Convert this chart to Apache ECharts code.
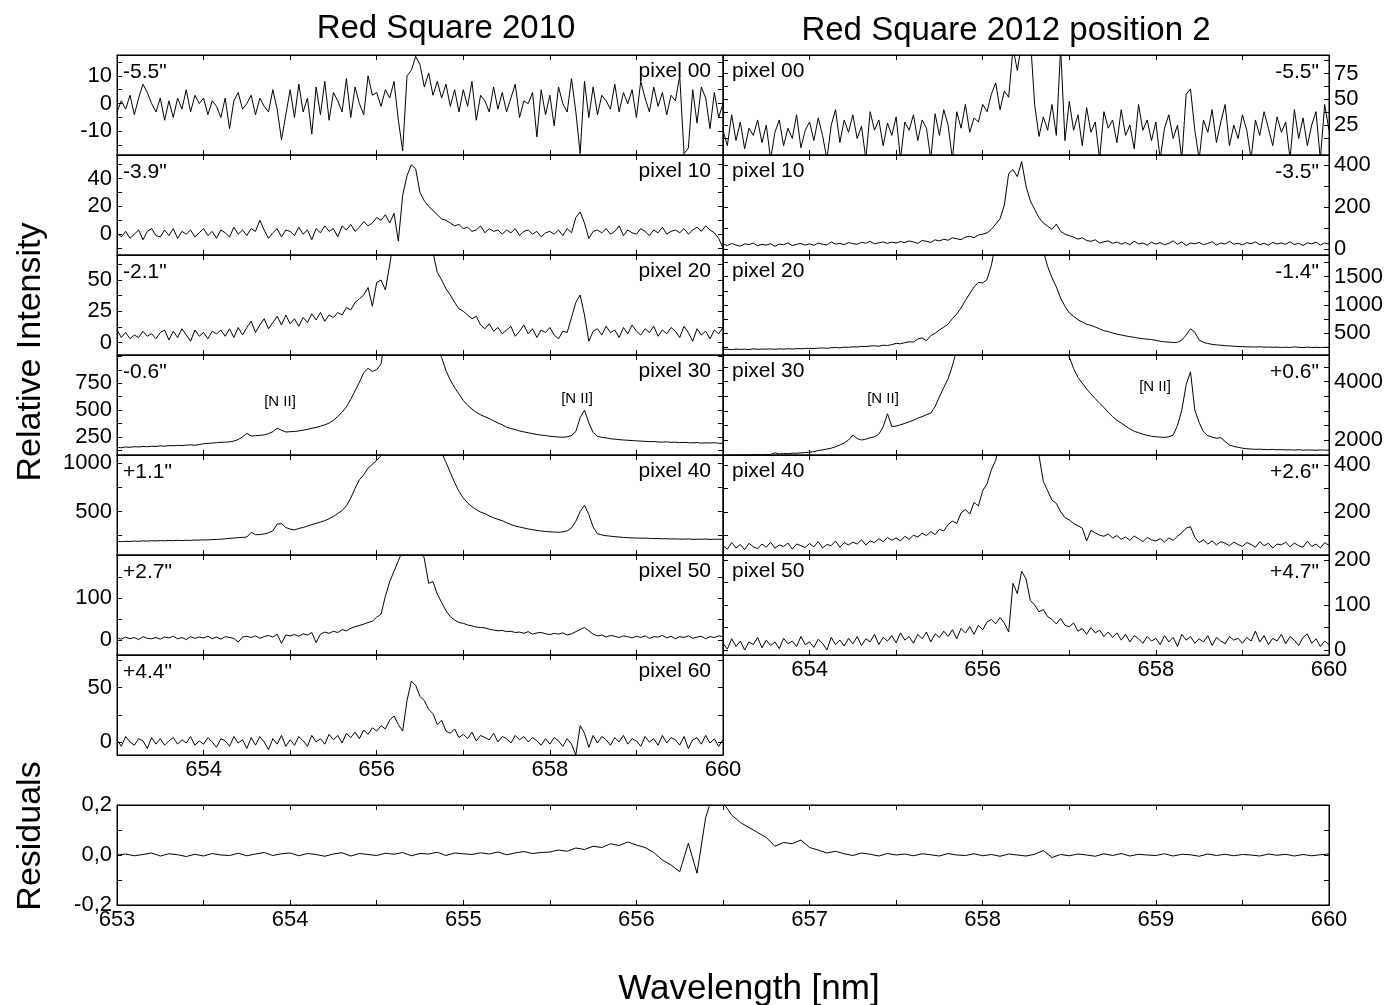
<!DOCTYPE html>
<html><head><meta charset="utf-8">
<script src="https://cdn.jsdelivr.net/npm/echarts@6.0.0/dist/echarts.min.js"></script>
<style>html,body{margin:0;padding:0;background:#fff}#chart{width:1387px;height:1005px}</style>
</head><body><div id="chart"></div>
<script>
const FONT = '"Liberation Sans", Arial, sans-serif';
// wavelength sampling (nm)
const wlStart = 653, wlStep = 0.05;

// ---- Red Square 2010 ----
const left00 = [
-3,1,-2,3,-4,2,7,4,0,-3,
2,-6,1,-5,2,-2,5,-3,3,0,
2,-4,1,-1,-5,2,-9,1,4,-2,
0,3,-4,2,-1,-3,5,-2,-13,-4,
5,-5,7,-3,2,-11,6,-4,8,-6,
4,1,-3,9,-5,6,0,-4,10,3,
4,-1,5,2,8,-6,-17,10,12,17,
14,6,11,3,8,2,7,-1,5,-3,
5,-1,8,-6,3,1,-3,6,-2,4,
-3,2,7,-5,1,0,4,-12,5,-4,
3,-8,6,0,-3,9,-3,-18,8,-5,
6,-4,3,1,-2,7,-3,4,0,5,
-5,8,2,-3,6,-1,4,-4,3,1,
10,-18,-16,5,-7,6,2,-9,4,-5,
0];
const left10 = [
1,-2,2,-3,0,3,-4,2,4,-1,
-2,3,-1,4,-3,2,0,3,-2,1,
4,-1,2,-3,3,1,-2,5,0,3,
-1,4,2,10,3,-3,1,4,-2,3,
2,-1,5,0,3,-4,4,1,6,2,
4,-2,6,3,7,2,5,9,6,8,
12,10,14,8,15,-5,28,42,50,47,
30,24,20,17,14,11,10,8,6,7,
4,5,2,3,6,1,4,2,3,0,
3,1,4,-1,2,3,0,2,-2,1,
2,0,3,-1,4,1,12,16,8,-3,
2,3,1,4,0,2,6,-1,3,1,
0,4,2,-1,3,1,5,0,2,3,
1,4,0,3,5,2,6,3,1,-3,
-10];
const left20 = [
10,4,8,3,6,4,9,5,7,3,
8,10,2,9,4,11,6,1,10,5,
8,3,9,7,10,5,11,4,12,6,
12,17,8,14,19,11,16,21,14,22,
15,19,13,20,16,23,18,24,17,22,
20,24,22,28,26,32,35,38,44,29,
48,50,42,62,85,130,190,230,240,210,
160,110,85,72,56,50,43,38,32,27,
25,22,19,21,14,11,15,9,12,7,
10,13,5,9,14,7,11,4,10,8,
12,6,3,9,8,20,32,38,22,1,
9,11,6,13,8,10,4,12,7,14,
9,6,11,8,13,5,10,7,12,9,
4,13,8,1,11,6,9,3,10,7,
12];
const left30 = [
150,148,155,152,158,155,160,157,162,160,
165,162,168,166,170,168,172,175,171,178,
185,188,192,195,198,200,203,210,225,250,
282,258,260,264,268,280,298,330,312,295,
298,300,305,312,320,330,338,350,362,378,
405,440,480,530,600,680,760,850,890,860,
880,930,1200,1500,2000,2500,3000,3200,3000,2600,
2200,1800,1400,1150,1060,990,870,780,710,650,
590,545,510,480,455,438,420,400,380,362,
340,328,318,305,296,288,280,272,266,262,
255,252,248,246,250,262,300,430,500,380,
290,255,245,240,232,228,224,220,218,215,
212,210,208,205,206,202,200,203,198,200,
196,198,195,193,197,190,194,192,195,190,
188];
const left40 = [
190,188,192,190,195,192,196,194,198,196,
199,197,200,198,202,200,203,201,205,204,
207,206,210,212,214,218,222,226,230,232,
236,285,260,262,268,280,300,370,375,335,
318,310,325,335,350,365,378,392,405,425,
450,480,510,560,640,740,830,880,950,990,
1030,1080,1400,2000,2800,3500,4000,4200,3900,3300,
2700,2100,1700,1400,1200,1110,1010,905,800,710,
640,590,550,520,495,478,455,435,420,405,
385,365,350,340,330,320,312,305,298,294,
290,288,285,290,300,330,400,500,565,470,
340,270,258,250,245,240,236,232,230,227,
226,224,225,222,220,221,218,219,216,217,
215,214,216,212,214,213,215,211,214,212,
214];
const left50 = [
5,2,7,3,6,1,8,4,3,6,
2,7,5,9,3,6,1,8,4,7,
5,9,3,7,2,8,6,4,-5,7,
9,6,10,4,8,11,7,14,-8,12,
10,13,9,15,12,18,-6,14,19,16,
21,18,25,22,28,32,35,38,42,45,
55,62,105,140,165,190,215,300,320,280,
230,195,136,140,110,90,70,56,48,42,
40,36,34,31,30,29,26,24,22,23,
20,21,18,19,16,20,14,17,18,15,
13,16,14,17,12,15,20,25,30,22,
14,10,12,7,11,9,6,10,8,5,
9,6,10,4,8,7,11,5,9,3,
8,6,10,4,7,9,3,8,6,10,
8];
const left60 = [
2,-4,5,0,-3,3,1,-6,4,-2,
3,-3,1,4,-2,2,-1,5,-3,1,
-2,4,0,-5,3,1,-4,5,-1,2,
-6,4,-3,5,0,-7,3,-2,6,-4,
2,-3,5,1,-4,6,0,3,-2,7,
2,6,-1,8,4,9,3,11,7,13,
10,15,12,20,24,16,10,38,56,52,
42,38,30,26,16,20,10,8,12,4,
7,3,9,1,6,4,2,8,0,5,
3,-1,6,2,5,0,4,1,-3,3,
-2,4,1,-4,3,-2,-12,15,8,-5,
6,-1,5,2,-3,4,0,6,-2,3,
1,-4,5,0,3,-3,6,-1,4,2,
-3,5,-6,2,4,-2,6,-1,3,-4,
2];

// ---- Red Square 2012 position 2 ----
const right00 = [
20,5,35,10,28,2,22,15,30,8,
25,-8,18,30,5,22,12,35,3,20,
28,10,32,15,-8,25,40,8,30,18,
35,12,24,-8,38,20,30,5,27,15,
33,-8,28,20,35,10,30,22,-8,36,
15,40,25,-8,38,22,45,18,32,28,
45,38,55,66,40,58,52,100,78,105,
98,110,45,14,33,20,45,15,100,10,
48,20,35,5,42,18,28,-8,38,22,
30,8,40,15,25,2,45,20,30,10,
28,-8,22,35,12,25,-8,55,60,20,
-8,30,18,40,8,28,45,5,25,12,
35,20,-8,30,15,38,22,5,33,18,
28,-8,40,12,32,5,25,38,-8,45,
20];
const right10 = [
25,18,28,20,15,26,22,30,17,24,
20,27,14,25,22,30,18,24,28,20,
26,19,30,24,21,35,25,28,22,32,
27,24,33,29,38,26,31,35,28,34,
30,37,32,40,35,28,42,38,33,45,
40,48,43,55,50,46,58,62,55,68,
72,78,95,120,145,210,360,378,345,417,
300,230,190,150,125,110,95,120,85,72,
65,58,48,55,42,38,45,30,36,40,
28,35,25,32,22,38,26,30,20,34,
25,32,22,28,40,24,35,18,30,26,
33,22,28,36,20,30,25,38,24,29,
21,32,26,35,22,28,20,33,25,30,
24,36,22,29,18,31,26,34,20,30,
25];
const right20 = [
215,218,212,222,216,220,214,225,218,222,
220,224,218,226,221,228,223,230,226,232,
235,230,238,242,236,245,250,244,255,252,
262,258,270,265,275,280,272,290,285,300,
322,315,335,350,345,400,420,370,460,500,
560,610,660,760,840,950,1080,1200,1320,1400,
1390,1450,1700,2100,2800,3500,4200,4600,4500,4000,
3400,2800,2300,2100,1950,1680,1480,1320,1120,980,
860,800,740,700,660,640,610,580,545,530,
505,485,470,455,440,430,415,405,398,390,
375,360,350,345,338,340,380,470,580,520,
380,340,320,305,295,290,282,278,272,268,
265,262,260,258,263,255,258,252,256,250,
254,250,262,252,248,256,250,253,249,252,
255];
const right30 = [
1480,1470,1485,1475,1490,1478,1482,1488,1495,1490,
1500,1505,1560,1520,1540,1530,1550,1545,1560,1570,
1580,1600,1640,1660,1690,1720,1770,1830,1900,2000,
2170,2050,2000,2030,2080,2110,2200,2450,2900,2460,
2480,2520,2570,2620,2680,2750,2800,2870,2920,3150,
3480,3800,4100,4550,5100,6000,7500,9000,11000,13000,
15000,17000,19000,20000,21000,21000,20000,18000,16000,14000,
12000,10500,9000,7800,7000,6500,6000,5600,5200,5000,
4850,4450,4150,3950,3750,3580,3420,3260,3120,2950,
2800,2680,2580,2480,2380,2300,2250,2200,2160,2130,
2110,2100,2090,2110,2170,2500,3030,3900,4340,3030,
2600,2280,2150,2100,2060,2080,1950,1830,1780,1750,
1720,1700,1690,1680,1685,1675,1670,1680,1665,1670,
1660,1665,1655,1670,1650,1660,1655,1648,1660,1652,
1655];
const right40 = [
55,40,68,45,60,38,65,50,42,62,
48,70,44,58,52,66,40,62,55,47,
64,50,72,45,60,55,75,48,68,58,
70,62,80,58,75,68,85,72,90,78,
88,75,95,82,100,92,108,98,115,102,
125,118,145,160,150,195,210,190,240,225,
290,320,380,420,520,700,900,1000,950,800,
650,520,470,440,330,290,250,236,200,175,
165,150,140,130,75,120,110,100,95,105,
88,98,82,92,78,96,85,72,90,80,
75,85,70,88,78,95,110,130,136,90,
68,80,62,75,58,72,66,55,70,60,
52,68,60,48,72,55,65,45,62,58,
70,50,66,55,48,74,52,62,45,68,
56];
const right50 = [
15,2,25,8,20,0,18,12,28,5,
22,10,18,3,26,14,20,8,30,12,
18,6,24,15,0,28,12,22,9,26,
14,30,10,25,18,35,12,28,20,32,
16,38,22,30,15,35,25,40,18,36,
28,42,30,45,25,48,38,52,35,55,
45,62,68,58,72,60,40,148,125,175,
158,110,100,85,90,74,68,58,70,55,
52,60,42,48,35,50,38,44,30,40,
28,38,22,35,18,32,25,15,30,20,
26,12,32,18,28,8,35,22,30,15,
25,18,32,10,28,20,14,30,22,26,
15,28,20,42,18,32,12,26,20,35,
14,30,22,10,28,36,15,25,8,20,
12];

// ---- Residuals ----
const residuals = [
0.000,0.004,-0.003,0.002,0.008,-0.004,0.005,0.001,-0.006,0.003,
-0.004,0.006,0.000,-0.002,0.007,-0.003,0.004,0.010,-0.002,0.005,
0.008,-0.003,0.006,0.002,-0.005,0.004,0.009,-0.004,0.006,0.002,
-0.002,0.007,0.003,0.010,-0.003,0.006,0.004,0.011,-0.002,0.008,
0.005,0.002,0.009,0.004,0.012,0.001,0.008,0.014,0.006,0.010,
0.012,0.020,0.015,0.028,0.022,0.035,0.030,0.045,0.038,0.052,
0.040,0.030,0.010,-0.020,-0.040,-0.067,0.047,-0.073,0.150,0.260,
0.210,0.160,0.130,0.110,0.090,0.070,0.035,0.050,0.045,0.060,
0.030,0.020,0.008,0.015,0.005,-0.002,0.008,0.003,-0.004,0.006,
0.000,0.004,-0.003,0.005,0.001,-0.004,0.006,0.000,-0.002,0.005,
-0.003,0.002,-0.005,0.004,0.000,-0.004,0.003,0.018,-0.010,0.002,
-0.003,0.004,0.000,-0.005,0.005,-0.002,0.006,-0.004,0.003,0.000,
-0.002,0.005,-0.004,0.003,0.001,-0.005,0.004,-0.002,0.003,-0.003,
0.002,0.000,-0.004,0.004,-0.001,0.003,-0.004,0.002,-0.003,0.001,
0.004];

// ---- labels & ticks ----
const leftOffsets = ['-5.5"', '-3.9"', '-2.1"', '-0.6"', '+1.1"', '+2.7"', '+4.4"'];
const rightOffsets = ['-5.5"', '-3.5"', '-1.4"', '+0.6"', '+2.6"', '+4.7"'];
const leftPixels = ['pixel 00', 'pixel 10', 'pixel 20', 'pixel 30', 'pixel 40', 'pixel 50', 'pixel 60'];
const rightPixels = ['pixel 00', 'pixel 10', 'pixel 20', 'pixel 30', 'pixel 40', 'pixel 50'];
const leftYLabels = [[-10, 0, 10], [0, 20, 40], [0, 25, 50], [250, 500, 750], [500, 1000], [0, 100], [0, 50]];
const leftYMinor = [[-15, -5, 5, 15], [-10, 10, 30, 50], [12.5, 37.5, 62.5], [125, 375, 625, 875, 1000], [250, 750], [50, 150], [25, 75]];
const rightYLabels = [[25, 50, 75], [0, 200, 400], [500, 1000, 1500], [2000, 4000], [200, 400], [0, 100, 200]];
const rightYMinor = [[12.5, 37.5, 62.5, 87.5], [100, 300], [250, 750, 1250, 1750], [2500, 3000, 3500, 4500], [100, 300], [50, 150]];
const leftYRange = [[-18.5, 17.5], [-15, 57], [-10, 70], [80, 1015], [50, 1086], [-36, 204], [-12, 80]];
const rightYRange = [[-4, 93], [-27, 448], [117, 1883], [1486, 4916], [15, 443], [-11, 211]];
const xTicks = [653, 654, 655, 656, 657, 658, 659, 660];
const xLabels = [654, 656, 658, 660];
const resXTicks = [653, 653.5, 654, 654.5, 655, 655.5, 656, 656.5, 657, 657.5, 658, 658.5, 659, 659.5, 660];
const resXLabels = [653, 654, 655, 656, 657, 658, 659, 660];
const resYLabels = [-0.2, 0, 0.2];
const resYMinor = [-0.1, 0.1];

const wavelengths = left00.map((_, i) => +(wlStart + i * wlStep).toFixed(2));

const grids = [], xAxes = [], yAxes = [], series = [];
const black = '#000';

function makeX(gi, pos, ticks, labels, showLabels, fmt) {
  return {
    gridIndex: gi, type: 'value', position: pos, min: 653, max: 660,
    axisLine: { show: true, onZero: false, lineStyle: { color: black, width: 1 } },
    axisTick: { show: true, inside: true, length: 5, customValues: ticks, lineStyle: { color: black } },
    axisLabel: { show: showLabels, customValues: labels || ticks, color: black, fontFamily: FONT, fontSize: 22, margin: 4,
      formatter: fmt || (v => String(v)) },
    splitLine: { show: false }
  };
}
function makeY(gi, pos, range, labels, minor, showLabels, fmt) {
  return {
    gridIndex: gi, type: 'value', position: pos, min: range[0], max: range[1],
    axisLine: { show: true, onZero: false, lineStyle: { color: black, width: 1 } },
    axisTick: { show: true, inside: true, length: 5, customValues: labels.concat(minor), lineStyle: { color: black } },
    axisLabel: { show: showLabels, customValues: labels, color: black, fontFamily: FONT, fontSize: 22, margin: 5,
      formatter: fmt || (v => String(v)) },
    splitLine: { show: false }
  };
}
function addPanel(rect, values, o) {
  const gi = grids.length;
  grids.push(Object.assign({ show: true, borderColor: black, borderWidth: 1, containLabel: false }, rect));
  const xi = xAxes.length;
  xAxes.push(makeX(gi, 'bottom', o.xTicks, o.xLabels, o.showX, o.xFmt));
  xAxes.push(makeX(gi, 'top', o.xTicks, null, false));
  const yi = yAxes.length;
  yAxes.push(makeY(gi, o.ySide, o.range, o.yLabels, o.yMinor, true, o.yFmt));
  yAxes.push(makeY(gi, o.ySide === 'left' ? 'right' : 'left', o.range, o.yLabels, o.yMinor, false));
  series.push({
    type: 'line', xAxisIndex: xi, yAxisIndex: yi, showSymbol: false, symbol: 'none', clip: true, silent: true,
    lineStyle: { color: black, width: 1 }, animation: false,
    data: values.map((v, i) => [wavelengths[i], v])
  });
}

const leftData = [left00, left10, left20, left30, left40, left50, left60];
const rightData = [right00, right10, right20, right30, right40, right50];
leftData.forEach((arr, r) => addPanel({ left: 117, top: 55 + 100 * r, width: 606, height: 100 }, arr, {
  xTicks, xLabels, showX: r === leftData.length - 1, ySide: 'left', range: leftYRange[r], yLabels: leftYLabels[r], yMinor: leftYMinor[r]
}));
rightData.forEach((arr, r) => addPanel({ left: 723, top: 55 + 100 * r, width: 606, height: 100 }, arr, {
  xTicks, xLabels, showX: r === rightData.length - 1, ySide: 'right', range: rightYRange[r], yLabels: rightYLabels[r], yMinor: rightYMinor[r]
}));
addPanel({ left: 117, top: 805, width: 1212, height: 100 }, residuals, {
  xTicks: resXTicks, xLabels: resXLabels, showX: true, ySide: 'left', range: [-0.2, 0.2], yLabels: resYLabels, yMinor: resYMinor,
  yFmt: v => v.toFixed(1).replace('.', ',')
});

const graphic = [];
function txt(x, y, text, size, align, vAlign, rot) {
  graphic.push({ type: 'text', x, y, rotation: rot || 0, silent: true,
    style: { text, fill: black, fontFamily: FONT, fontSize: size, font: size + 'px ' + FONT,
      textAlign: align, align, textVerticalAlign: vAlign, verticalAlign: vAlign } });
}
leftOffsets.forEach((t, r) => txt(123, 72 + 100 * r, t, 21, 'left', 'middle'));
leftPixels.forEach((t, r) => txt(711, 71 + 100 * r, t, 21, 'right', 'middle'));
rightPixels.forEach((t, r) => txt(732, 71 + 100 * r, t, 21, 'left', 'middle'));
rightOffsets.forEach((t, r) => txt(1319, 72 + 100 * r, t, 21, 'right', 'middle'));
txt(280, 402, '[N II]', 15, 'center', 'middle');
txt(577, 399, '[N II]', 15, 'center', 'middle');
txt(883, 399, '[N II]', 15, 'center', 'middle');
txt(1155, 387, '[N II]', 15, 'center', 'middle');
txt(446, 29, 'Red Square 2010', 33, 'center', 'middle');
txt(1006, 31, 'Red Square 2012 position 2', 33, 'center', 'middle');
txt(31, 352, 'Relative Intensity', 34, 'center', 'middle', Math.PI / 2);
txt(31, 836, 'Residuals', 34, 'center', 'middle', Math.PI / 2);
txt(749, 989, 'Wavelength [nm]', 35, 'center', 'middle');

const chart = echarts.init(document.getElementById('chart'), null, { renderer: 'canvas' });
chart.setOption({
  backgroundColor: '#fff', animation: false,
  grid: grids, xAxis: xAxes, yAxis: yAxes, series, graphic
});
</script></body></html>
